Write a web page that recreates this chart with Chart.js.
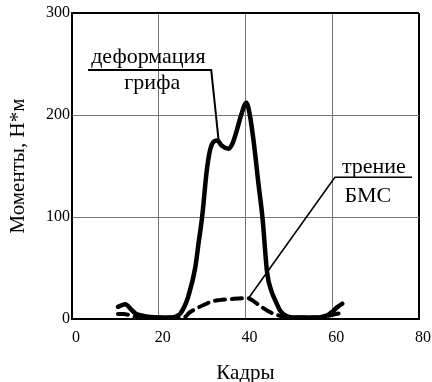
<!DOCTYPE html>
<html>
<head>
<meta charset="utf-8">
<script src="https://cdn.jsdelivr.net/npm/chart.js@4"></script>
<style>
  html, body { margin: 0; padding: 0; background: #fff; }
  #wrap { width: 432px; height: 382px; }
</style>
</head>
<body>
<div id="wrap"><canvas id="c"></canvas></div>
<script>
// деформация грифа (solid)
const framesGrip = [10.6, 12.3, 13.5, 14.6, 16.5, 18, 20, 23, 24, 25, 26, 26.8, 28.4, 29.2, 30, 31,
  31.7, 32.5, 33.5, 34.5, 36.1, 37, 38, 39, 40.2, 41, 42, 43, 43.9, 45, 46, 47, 48, 49, 50, 51,
  57, 58, 59, 60, 61, 62.3];
const torqueGrip = [12, 14.5, 10, 5.5, 3, 2, 1.5, 1.5, 2.5, 5.5, 13, 22, 50, 75, 100, 143,
  163, 173, 175, 170, 167, 172, 185, 200, 212, 200, 170, 132, 100, 45, 27, 17, 8, 4, 2, 1.5,
  1.5, 2.5, 4, 7, 11, 15];

// трение БМС (dashed)
const framesFriction = [10.6, 12, 13, 14, 16, 20, 24, 26, 27, 29, 31, 32, 34, 36.5, 40.4, 42, 44,
  46, 48, 50, 56, 58, 60, 62];
const torqueFriction = [5, 5, 4, 2.5, 1.5, 1.5, 1.5, 2, 6, 11, 15, 17, 18.5, 19.5, 20.5, 17, 11,
  6, 3, 1.5, 1.5, 2, 4, 6];

const xTicks = [0, 20, 40, 60, 80];
const yTicks = [0, 100, 200, 300];

// callouts in data units
const gripLeader = [[3.7, 244], [32.1, 244], [33.8, 175]];
const gripText = [["деформация", 17.6, 257], ["грифа", 18.5, 231]];
const frictionLeader = [[78.4, 139], [60.6, 139], [40.9, 21.5]];
const frictionText = [["трение", 69.6, 148.5], ["БМС", 68.2, 120]];

const serif = "'Liberation Serif', 'Times New Roman', serif";

function pts(xs, ys) {
  return xs.map((x, i) => ({ x: x, y: ys[i] }));
}

const callouts = {
  id: "callouts",
  afterDatasetsDraw(chart) {
    const { ctx, scales } = chart;
    const px = v => scales.x.getPixelForValue(v);
    const py = v => scales.y.getPixelForValue(v);
    ctx.save();
    ctx.strokeStyle = "#000";
    ctx.fillStyle = "#000";
    [[gripLeader, 2], [frictionLeader, 1.6]].forEach(([line, w]) => {
      ctx.lineWidth = w;
      ctx.beginPath();
      line.forEach(([x, y], i) => {
        if (i == 0) ctx.moveTo(px(x), py(y));
        else ctx.lineTo(px(x), py(y));
      });
      ctx.stroke();
    });
    ctx.font = "22px " + serif;
    ctx.textAlign = "center";
    ctx.textBaseline = "middle";
    gripText.concat(frictionText).forEach(([t, x, y]) => {
      ctx.fillText(t, px(x), py(y));
    });
    ctx.restore();
  },
};

function draw() {
  new Chart(document.getElementById("c"), {
    type: "line",
    data: {
      datasets: [
        {
          label: "деформация грифа",
          data: pts(framesGrip, torqueGrip),
          borderColor: "#000",
          borderWidth: 4.5,
          borderCapStyle: "round",
          pointRadius: 0,
          cubicInterpolationMode: "monotone",
        },
        {
          label: "трение БМС",
          data: pts(framesFriction, torqueFriction),
          borderColor: "#000",
          borderWidth: 4,
          borderDash: [10, 7],
          borderCapStyle: "round",
          pointRadius: 0,
          cubicInterpolationMode: "monotone",
        },
      ],
    },
    options: {
      responsive: true,
      maintainAspectRatio: false,
      animation: false,
      events: [],
      layout: { padding: { top: 13, right: 0, left: 0, bottom: 0 } },
      plugins: { legend: { display: false }, tooltip: { enabled: false } },
      scales: {
        x: {
          type: "linear",
          min: 0,
          max: 80,
          afterBuildTicks: s => { s.ticks = xTicks.map(v => ({ value: v })); },
          afterFit: s => { s.height = 63; s.paddingLeft = 0; s.paddingRight = 13; },
          ticks: { color: "#000", font: { family: serif, size: 16 }, padding: 9, labelOffset: 4, maxRotation: 0 },
          grid: {
            drawTicks: false,
            color: c => (c.tick.value === 80 ? "#000" : c.tick.value === 0 ? "rgba(0,0,0,0)" : "#777"),
            lineWidth: c => (c.tick.value === 80 ? 2 : 1),
          },
          border: { color: "#000", width: 2 },
          title: { display: true, text: "Кадры", color: "#000", font: { family: serif, size: 21, lineHeight: 0.85 }, padding: { top: 0, bottom: 0 } },
        },
        y: {
          min: 0,
          max: 300,
          afterBuildTicks: s => { s.ticks = yTicks.map(v => ({ value: v })); },
          afterFit: s => { s.width = 72; },
          ticks: { color: "#000", font: { family: serif, size: 16 }, padding: 2 },
          grid: {
            drawTicks: false,
            color: c => (c.tick.value === 300 ? "#000" : c.tick.value === 0 ? "rgba(0,0,0,0)" : "#777"),
            lineWidth: c => (c.tick.value === 300 ? 2 : 1),
          },
          border: { color: "#000", width: 2 },
          title: { display: true, text: "Моменты, Н*м", color: "#000", font: { family: serif, size: 21, lineHeight: 1 }, padding: { top: 8, bottom: 0 } },
        },
      },
    },
    plugins: [callouts],
  });
}

Promise.all([
  document.fonts.load("16px 'Liberation Serif'", "0123456789"),
  document.fonts.load("22px 'Liberation Serif'", "деформация грифа трение БМС Кадры Моменты, Н*м"),
]).then(draw, draw);
</script>
</body>
</html>
